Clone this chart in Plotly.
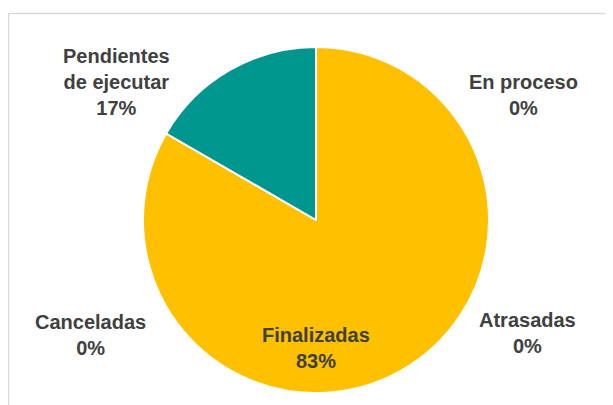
import plotly.graph_objects as go

labels = ["En proceso", "Atrasadas", "Finalizadas", "Canceladas", "Pendientes de ejecutar"]
label_lines = ["En proceso", "Atrasadas", "Finalizadas", "Canceladas", "Pendientes<br>de ejecutar"]
values = [0, 0, 10, 0, 2]
colors = ["#4472C4", "#ED7D31", "#FFC000", "#A5A5A5", "#009690"]

total = sum(values)
pcts = [round(v / total * 100) for v in values]

W, H = 613, 405
OFF = 8  # page body margin


def px(x):
    return (x - OFF) / W


def py(y):
    return 1 - (y - OFF) / H


fig = go.Figure()
fig.add_trace(go.Pie(
    labels=labels, values=values, sort=False, direction="clockwise", rotation=0,
    marker=dict(colors=colors, line=dict(color="white", width=2)),
    textinfo="none", hoverinfo="label+percent", showlegend=False,
    domain=dict(x=[px(143), px(489)], y=[py(393), py(47)]),
))

# label positions (reference pixel centres of each text block)
label_pos = [(523, 95), (527, 333), (316, 348), (90, 335), (117, 82)]
font = dict(family="Liberation Sans, Arial, sans-serif", size=20, color="#404040")
for (x, y), lab, p in zip(label_pos, label_lines, pcts):
    fig.add_annotation(x=px(x), y=py(y), xref="paper", yref="paper", showarrow=False,
                       text=f"<b>{lab}<br>{p}%</b>", font=font, align="center",
                       xanchor="center", yanchor="middle")

fig.add_shape(type="rect", xref="paper", yref="paper",
              x0=px(8.5), y0=-0.1, x1=1.1, y1=py(13.5),
              line=dict(color="#D9D9D9", width=1.5), layer="below")

fig.update_layout(width=W, height=H, margin=dict(l=0, r=0, t=0, b=0),
                  paper_bgcolor="white", plot_bgcolor="white")
fig.write_html("out.html")
